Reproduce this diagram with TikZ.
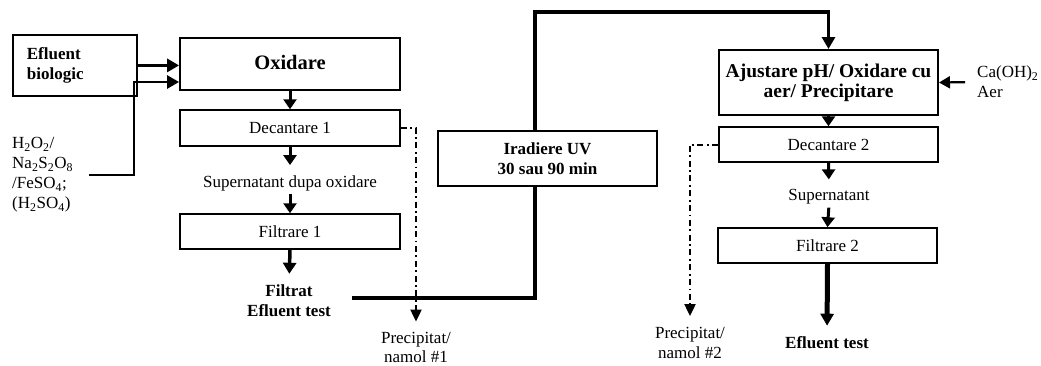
\documentclass[tikz,border=0pt]{standalone}
\usepackage{fontspec}
\setmainfont{Liberation Serif}
\usetikzlibrary{arrows.meta}
\begin{document}
\begin{tikzpicture}[x=1pt,y=-1pt,
  every node/.style={inner sep=0pt},
  nf/.style={font=\fontsize{17}{20}\selectfont},
  bf/.style={font=\fontsize{17}{20}\selectfont\bfseries},
  box/.style={draw, line width=1.5pt, fill=white, minimum width=220pt},
  thk/.style={line width=3.2pt, -{Triangle[length=12pt,width=13pt]}},
  flow/.style={line width=3pt, -{Triangle[length=10pt,width=13pt]}},
  dd/.style={line width=2pt, dash pattern=on 6pt off 3.5pt on 1.8pt off 3.5pt, -{Triangle[length=12pt,width=11pt]}},
]
\useasboundingbox (0,0) rectangle (1041,365);

% left column
\node[box, line width=1.8pt, minimum width=124pt, minimum height=61pt, text width=96pt, align=left, inner xsep=14pt, bf, anchor=north west] (eff) at (12,34) {Efluent\\biologic};
\node[box, line width=1.8pt, minimum height=52pt, font=\fontsize{20.5}{24}\selectfont\bfseries] (oxi) at (290,64) {\raisebox{4pt}{Oxidare}};
\node[box, minimum height=36pt, nf] (dec1) at (290,128) {Decantare 1};
\node[nf] (sup1) at (290,183) {Supernatant dupa oxidare};
\node[box, minimum height=35pt, nf] (fil1) at (290,231.5) {Filtrare 1};
\node[bf, align=center] (filtrat) at (289,301) {Filtrat\\Efluent test};

\node[nf, align=left, anchor=north west] (chem) at (12,137) {H\textsubscript{2}O\textsubscript{2}/\\Na\textsubscript{2}S\textsubscript{2}O\textsubscript{8}\\/FeSO\textsubscript{4};\\(H\textsubscript{2}SO\textsubscript{4})};
\coordinate (cstart) at (89,175);
\coordinate (jn) at (134,82);

\draw[thk] (eff.east) -- (oxi.west |- eff.east);
\draw[thk, line width=2.6pt] (cstart) -| (jn) -- (oxi.west |- jn);

\draw[flow] (oxi.south) -- (dec1.north);
\draw[flow, shorten >=10pt] (dec1.south) -- (sup1.north);
\draw[flow, shorten <=3pt] (sup1.south) -- (fil1.north);
\draw[thk, line width=3.5pt, -{Triangle[length=11pt,width=13pt]}, shorten >=11pt] (fil1.south) -- (filtrat.north);

\node[font=\fontsize{17}{19}\selectfont, align=center] (prec1) at (416,347) {Precipitat/\\namol \#1};
\draw[dd, shorten >=10pt] (dec1.east) -| (prec1.north);

% right column
\node[box, line width=2pt, minimum width=219pt, minimum height=65pt, align=center, font=\fontsize{19.5}{20}\selectfont\bfseries] (ajust) at (828.5,82.5) {Ajustare pH/ Oxidare cu\\aer/ Precipitare};
\node[nf, align=left, anchor=west] (caoh) at (977,82) {Ca(OH)\textsubscript{2}\\Aer};
\draw[line width=2.2pt, -{Triangle[length=11pt,width=12pt]}, shorten <=12pt] (caoh.west) -- (ajust.east);

\node[box, minimum width=219pt, minimum height=35pt, nf] (dec2) at (828.5,144.5) {Decantare 2};
\node[nf] (sup2) at (829,197) {Supernatant};
\node[box, minimum width=219pt, minimum height=35pt, nf] (fil2) at (827.5,245.5) {Filtrare 2};
\node[bf] (eft2) at (827,343) {Efluent test};
\node[nf, align=center] (prec2) at (690,343) {Precipitat/\\namol \#2};

\draw[flow] (ajust.south) -- (dec2.north);
\draw[flow, shorten >=10pt] (dec2.south) -- (sup2.north);
\draw[flow, shorten <=3pt] (sup2.south) -- (fil2.north);
\draw[line width=5pt, -{Triangle[length=12pt,width=13pt]}, shorten >=11pt] (fil2.south) -- (eft2.north);
\draw[dd, shorten >=11pt] (dec2.west) -| (prec2.north);

% UV line
\coordinate (fs) at (352,298);
\coordinate (c1) at (535,298);
\coordinate (c2) at (535,12);
\draw[line width=3.4pt, -{Triangle[length=12pt,width=13pt]}] (fs) -- (c1) -- (c2) -| (ajust.north);
\node[box, minimum width=219pt, minimum height=55pt, bf, align=center] (irad) at (547.5,158.5) {Iradiere UV\\30 sau 90 min};
\end{tikzpicture}
\end{document}
